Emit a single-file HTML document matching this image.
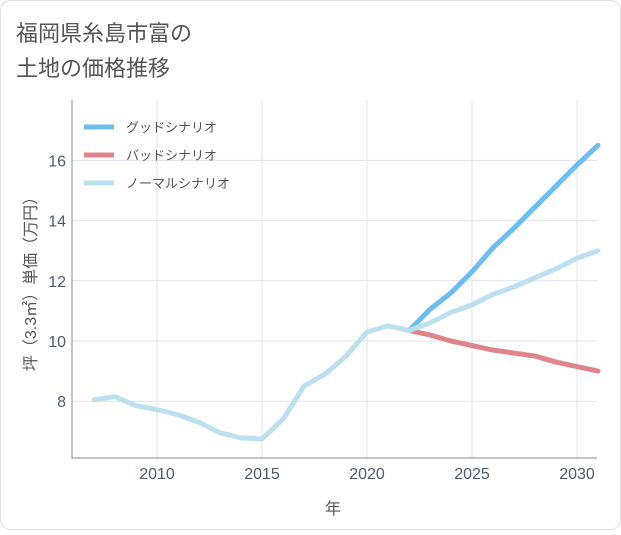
<!DOCTYPE html>
<html><head><meta charset="utf-8">
<style>
html,body{margin:0;padding:0;background:#fff;}
body{width:621px;height:530px;overflow:hidden;font-family:"Liberation Sans","Noto Sans CJK JP",sans-serif;}
</style></head>
<body>
<svg id="chart" width="621" height="530" xmlns="http://www.w3.org/2000/svg" style="font-family:'Liberation Sans','Noto Sans CJK JP',sans-serif">
<rect x="0.5" y="0.5" width="620" height="529" rx="10" fill="#fff" stroke="#ddd"/>
<text x="16" y="41" font-size="22" fill="#555">福岡県糸島市富の</text>
<text x="16" y="76" font-size="22" fill="#555">土地の価格推移</text>
<g id="grid"></g>
<g id="axes"></g>
<g id="series"></g>
<g id="legend"></g>
<text x="333" y="514" font-size="16" fill="#555" text-anchor="middle">年</text>
<text transform="translate(36,280) rotate(-90)" font-size="16" fill="#555" text-anchor="middle">坪（3.3㎡）単価（万円）</text>
</svg>
<script>
const years=[2007,2008,2009,2010,2011,2012,2013,2014,2015,2016,2017,2018,2019,2020,2021,2022,2023,2024,2025,2026,2027,2028,2029,2030,2031];
const normalVals=[8.05,8.15,7.85,7.72,7.55,7.3,6.95,6.78,6.75,7.4,8.5,8.9,9.5,10.3,10.5,10.35,10.6,10.95,11.2,11.55,11.8,12.1,12.4,12.75,13.0];
const futureYears=[2022,2023,2024,2025,2026,2027,2028,2029,2030,2031];
const goodVals=[10.35,11.05,11.6,12.3,13.1,13.75,14.45,15.15,15.85,16.5];
const badVals=[10.35,10.2,10.0,9.85,9.7,9.6,9.5,9.3,9.15,9.0];
const xTicks=[2010,2015,2020,2025,2030];
const yTicks=[8,10,12,14,16];
const legendLabels=["グッドシナリオ","バッドシナリオ","ノーマルシナリオ"];
const NS="http://www.w3.org/2000/svg";
const L=72,R=597,T=100,B=458;
const x=v=>157+(v-2010)*21;
const y=v=>341-(v-10)*30.1;
function mk(tag,attrs,parent){const e=document.createElementNS(NS,tag);for(const k in attrs)e.setAttribute(k,attrs[k]);parent.appendChild(e);return e;}
const grid=document.getElementById('grid'),axes=document.getElementById('axes'),series=document.getElementById('series'),legend=document.getElementById('legend');
xTicks.forEach(t=>{const g=mk('line',{x1:x(t),x2:x(t),y1:T,y2:B,stroke:'#dfe3ea'},grid);

const tx=mk('text',{x:x(t),y:479,'font-size':16,fill:'#4f5b6b','text-anchor':'middle'},axes);tx.textContent=t;
});
yTicks.forEach(t=>{const g=mk('line',{x1:L,x2:R,y1:y(t),y2:y(t),stroke:'#dfe3ea'},grid);

const tx=mk('text',{x:66,y:y(t)+6,'font-size':16,fill:'#4f5b6b','text-anchor':'end'},axes);tx.textContent=t;
});
const ax=mk('path',{d:`M${L} ${T} V${B} H${R}`,fill:'none',stroke:'#888'},axes);

function line(xs,vs,color,name){const p=mk('polyline',{points:xs.map((a,i)=>x(a)+','+y(vs[i])).join(' '),fill:'none',stroke:color,'stroke-width':5,'stroke-linejoin':'round','stroke-linecap':'round'},series);
}
line(futureYears,badVals,'#e0848c','bad-scenario-line');
line(futureYears,goodVals,'#6cbdf2','good-scenario-line');
line(years,normalVals,'#bde0f0','normal-scenario-line');
const colors=['#6cbdf2','#e0848c','#bde0f0'];
legendLabels.forEach((lb,i)=>{const yy=127+i*28;
const l=mk('line',{x1:84,x2:114,y1:yy,y2:yy,stroke:colors[i],'stroke-width':5},legend);

const t=mk('text',{x:126,y:yy+5,'font-size':13,fill:'#555'},legend);t.textContent=lb;
});
</script>
</body></html>
